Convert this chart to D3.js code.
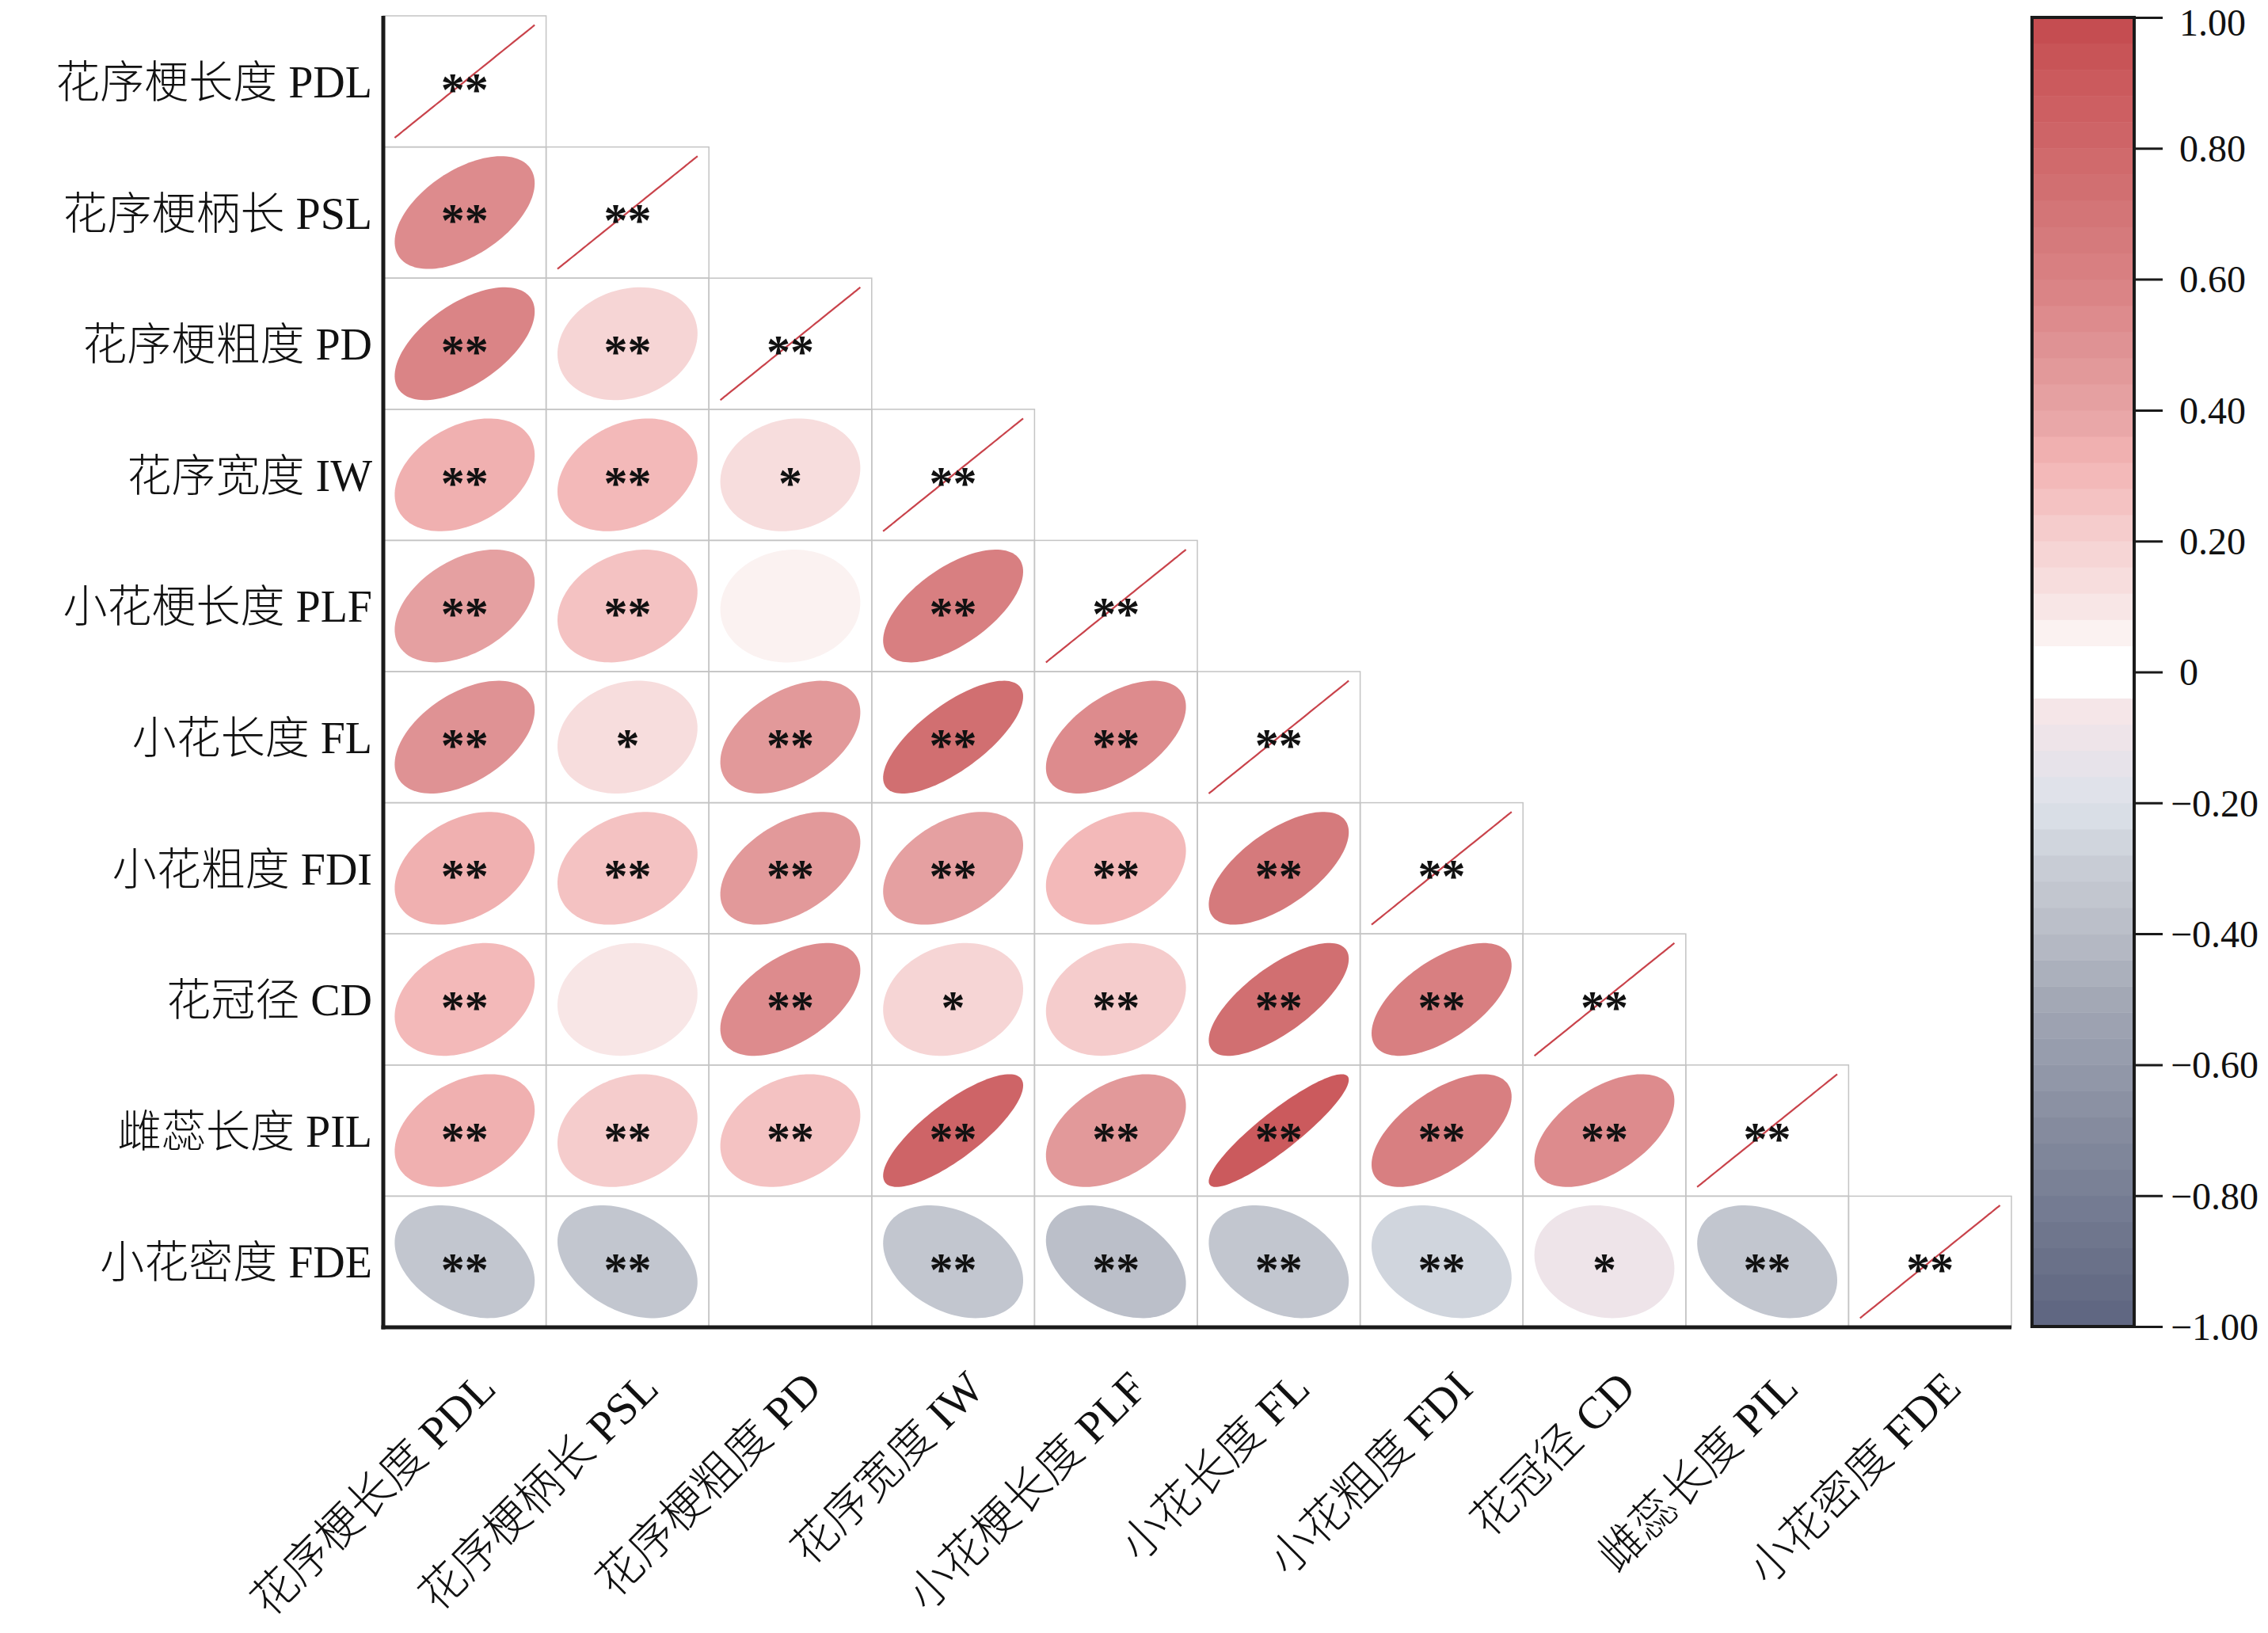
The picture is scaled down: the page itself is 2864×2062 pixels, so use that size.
<!DOCTYPE html>
<meta charset="utf-8">
<style>
  body { margin: 0; background: #fff; }
  svg text { font-family: "Liberation Serif", "Noto Sans CJK SC", serif; }
</style>
<body>
<svg id="chart" width="2864" height="2062"></svg>

<script src="https://d3js.org/d3.v7.min.js" charset="utf-8"></script>
<script type="text/javascript">

// variable names, in plot order
var traits = ["花序梗长度 PDL", "花序梗柄长 PSL", "花序梗粗度 PD", "花序宽度 IW", "小花梗长度 PLF",
              "小花长度 FL", "小花粗度 FDI", "花冠径 CD", "雌蕊长度 PIL", "小花密度 FDE"];

// lower triangle correlations (row i, columns 0..i-1), diagonal is 1
var corrRows = [
  [],
  [0.52],
  [0.57, 0.18],
  [0.35, 0.29, 0.12],
  [0.42, 0.25, 0.06, 0.61],
  [0.48, 0.16, 0.44, 0.72, 0.54],
  [0.35, 0.26, 0.46, 0.41, 0.31, 0.64],
  [0.30, 0.10, 0.52, 0.18, 0.21, 0.72, 0.60],
  [0.36, 0.22, 0.27, 0.80, 0.44, 0.90, 0.60, 0.53],
  [-0.34, -0.36, 0.00, -0.33, -0.38, -0.34, -0.28, -0.12, -0.33]
];

// significance marks, same layout
var sigRows = [
  [],
  ["**"],
  ["**", "**"],
  ["**", "**", "*"],
  ["**", "**", "", "**"],
  ["**", "*", "**", "**", "**"],
  ["**", "**", "**", "**", "**", "**"],
  ["**", "", "**", "*", "**", "**", "**"],
  ["**", "**", "**", "**", "**", "**", "**", "**"],
  ["**", "**", "", "**", "**", "**", "**", "*", "**"]
];
var diagSig = "**";

// colour bar
var barTicks = [-1, -0.8, -0.6, -0.4, -0.2, 0, 0.2, 0.4, 0.6, 0.8, 1];
var stopValues = [-1, -0.9, -0.8, -0.7, -0.6, -0.5, -0.4, -0.3, -0.2, -0.12, -0.06, -0.02, 0,
                  0.02, 0.06, 0.1, 0.16, 0.24, 0.32, 0.4, 0.5, 0.6, 0.7, 0.8, 0.9, 1];
var stopColors = ["#5d6580", "#6a7189", "#777e94", "#858b9e", "#949aab", "#a3a8b5", "#b8bcc6",
                  "#c8ccd5", "#dde2ea", "#eae3ea", "#f5e6e8", "#ffffff", "#ffffff",
                  "#ffffff", "#fbf2f1", "#f8e6e6", "#f6d9d9", "#f4c7c7", "#f3b4b4", "#e6a3a4",
                  "#df9294", "#d98183", "#d37577", "#cf6769", "#cb5a5d", "#c44a4e"];
var nBands = 50;

//------------------------------------------------------------------------
var svg = d3.select("#chart");

var x = d3.scaleBand().domain(traits).range([484, 2540]);
var y = d3.scaleBand().domain(traits).range([20, 1676]);

var colour = d3.scaleLinear().domain(stopValues).range(stopColors);
var bandStep = 2 / nBands;
// corrplot style: colours come in steps
var stepColour = function(r) {
  var k = Math.min(nBands - 1, Math.floor((r + 1) / bandStep));
  return colour(-1 + (k + 0.5) * bandStep);
};

// flatten to cells
var cells = [];
traits.forEach(function(rowName, i) {
  for (var j = 0; j <= i; j++) {
    cells.push({
      row: rowName, col: traits[j],
      r: j === i ? 1 : corrRows[i][j],
      sig: j === i ? diagSig : sigRows[i][j],
      diag: j === i
    });
  }
});

// cell frames
svg.append("g").selectAll("rect")
  .data(cells).join("rect")
  .attr("x", function(d) { return x(d.col); })
  .attr("y", function(d) { return y(d.row); })
  .attr("width", x.bandwidth())
  .attr("height", y.bandwidth())
  .attr("fill", "none")
  .attr("stroke", "#c4c4c4")
  .attr("stroke-width", 1.5);

// ellipse outline as in corrplot: (cos(t + acos(r)/2), cos(t - acos(r)/2))
var shrink = 0.86;
var ellipsePath = function(d) {
  var cx = x(d.col) + x.bandwidth() / 2,
      cy = y(d.row) + y.bandwidth() / 2,
      a = x.bandwidth() / 2 * shrink,
      b = y.bandwidth() / 2 * shrink,
      h = Math.acos(Math.max(-1, Math.min(1, d.r))) / 2;
  var pts = d3.range(0, 120).map(function(k) {
    var t = k / 120 * 2 * Math.PI;
    return [cx + a * Math.cos(t + h), cy - b * Math.cos(t - h)];
  });
  return d3.line().curve(d3.curveLinearClosed)(pts);
};

svg.append("g").selectAll("path")
  .data(cells).join("path")
  .attr("d", ellipsePath)
  .attr("fill", function(d) { return d.diag ? "none" : stepColour(d.r); })
  .attr("stroke", function(d) { return d.diag ? "#c9434b" : "none"; })
  .attr("stroke-width", 2.2);

// significance stars
svg.append("g").selectAll("text")
  .data(cells).join("text")
  .attr("x", function(d) { return x(d.col) + x.bandwidth() / 2; })
  .attr("y", function(d) { return y(d.row) + y.bandwidth() / 2 + 30; })
  .attr("text-anchor", "middle")
  .attr("font-size", 60)
  .attr("font-weight", "bold")
  .attr("fill", "#111")
  .text(function(d) { return d.sig; });

// axes
var leftAxis = svg.append("g")
  .attr("transform", "translate(484,0)")
  .call(d3.axisLeft(y).tickSize(0).tickSizeOuter(0).tickPadding(14));
leftAxis.selectAll("text")
  .attr("font-size", 56)
  .attr("font-weight", 300)
  .attr("fill", "#111")
  .attr("dy", "0.36em");

var bottomAxis = svg.append("g")
  .attr("transform", "translate(0,1676)")
  .call(d3.axisBottom(x).tickSize(0).tickSizeOuter(0));
bottomAxis.selectAll("text")
  .attr("font-size", 57)
  .attr("font-weight", 300)
  .attr("fill", "#111")
  .attr("x", 0).attr("y", 0).attr("dy", 0)
  .attr("text-anchor", "end")
  .attr("transform", "translate(42,80) rotate(-45)");

svg.selectAll(".domain").attr("stroke", "#1a1a1a").attr("stroke-width", 5);
leftAxis.select(".domain").attr("d", "M0,20V1678.5");
bottomAxis.select(".domain").attr("d", "M481.5,0H2540");

//------------------------------------------------------------------------
// colour bar
var cb = d3.scaleLinear().domain([-1, 1]).range([1675, 22]);
var barX = 2566, barW = 129;
var bands = d3.range(nBands).map(function(k) { return -1 + k * bandStep; });

svg.append("g").selectAll("rect")
  .data(bands).join("rect")
  .attr("x", barX)
  .attr("y", function(v) { return cb(v + bandStep); })
  .attr("width", barW)
  .attr("height", function(v) { return cb(v) - cb(v + bandStep) + 0.5; })
  .attr("fill", function(v) { return colour(v + bandStep / 2); });

svg.append("rect")
  .attr("x", barX).attr("y", cb(1))
  .attr("width", barW).attr("height", cb(-1) - cb(1))
  .attr("fill", "none").attr("stroke", "#1a1a1a").attr("stroke-width", 4);

var barAxis = svg.append("g")
  .attr("transform", "translate(" + (barX + barW) + ",0)")
  .call(d3.axisRight(cb).tickValues(barTicks).tickSize(36).tickPadding(20)
    .tickFormat(function(v) { return v === 0 ? "0" : d3.format(".2f")(v); }));
barAxis.select(".domain").remove();
barAxis.selectAll(".tick line").attr("stroke", "#1a1a1a").attr("stroke-width", 3);
barAxis.selectAll("text")
  .attr("font-size", 48)
  .attr("fill", "#111")
  .attr("x", function(v) { return v < 0 ? 46 : 57; })
  // keep the top label inside the picture
  .attr("dy", function(v) { return v === 1 ? "0.46em" : "0.34em"; });

</script>
</body>
